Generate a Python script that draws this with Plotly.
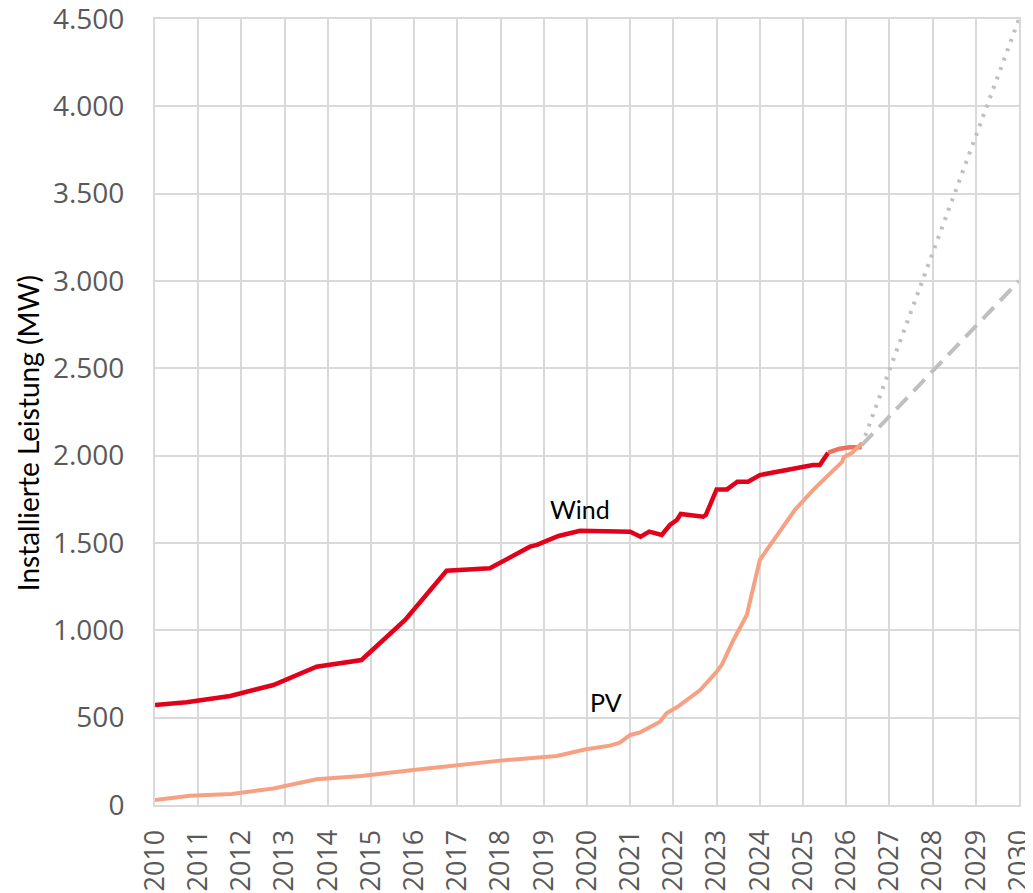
import plotly.graph_objects as go

# ---- data ----
wind_years = [2010.0, 2010.73, 2011.74, 2012.74, 2013.74, 2014.78, 2015.79, 2016.75,
              2017.75, 2018.68, 2018.84, 2019.34, 2019.84, 2020.76, 2021.0, 2021.24,
              2021.44, 2021.73, 2021.92, 2022.08, 2022.17, 2022.69, 2022.75, 2023.0,
              2023.24, 2023.48, 2023.73, 2024.0, 2025.23, 2025.39, 2025.58]
wind_values = [572, 588, 624, 687, 792, 830, 1059, 1341,
               1355, 1479, 1489, 1540, 1570, 1569, 1565, 1536,
               1565, 1546, 1603, 1632, 1666, 1651, 1660, 1807,
               1807, 1851, 1851, 1889, 1947, 1947, 2017]

wind_prelim_years = [2025.58, 2025.85, 2026.08, 2026.36]
wind_prelim_values = [2017, 2040, 2048, 2048]

pv_years = [2010.0, 2010.81, 2011.78, 2012.74, 2013.74, 2014.78, 2015.98, 2017.06,
            2017.99, 2019.30, 2019.95, 2020.53, 2020.76, 2021.0, 2021.23, 2021.69,
            2021.84, 2022.08, 2022.62, 2023.0, 2023.12, 2023.39, 2023.70, 2024.0,
            2024.81, 2025.23, 2025.62, 2025.91, 2025.94, 2026.12, 2026.36]
pv_values = [29, 53, 63, 95, 147, 166, 200, 229,
             254, 281, 318, 340, 357, 401, 416, 477,
             525, 559, 658, 763, 802, 945, 1088, 1403,
             1689, 1803, 1899, 1966, 1991, 2013, 2071]

proj_years = [2026.36, 2030.0]
proj_high = [2060, 4500]
proj_low = [2060, 3000]

year_ticks = list(range(2010, 2031))
y_ticks = list(range(0, 4501, 500))

GRID = "#D9D9D9"
TICK_COLOR = "#595959"

fig = go.Figure()

fig.add_trace(go.Scatter(x=proj_years, y=proj_high, mode="lines",
                         line=dict(color="#BFBFBF", width=4, dash="3px,7px"),
                         showlegend=False, hoverinfo="skip"))
fig.add_trace(go.Scatter(x=proj_years, y=proj_low, mode="lines",
                         line=dict(color="#BFBFBF", width=4, dash="16px,9px"),
                         showlegend=False, hoverinfo="skip"))
fig.add_trace(go.Scatter(x=wind_years, y=wind_values, mode="lines", name="Wind",
                         line=dict(color="#E2001A", width=4.5), showlegend=False))
fig.add_trace(go.Scatter(x=wind_prelim_years, y=wind_prelim_values, mode="lines",
                         line=dict(color="#F07060", width=4.5), showlegend=False))
fig.add_trace(go.Scatter(x=pv_years, y=pv_values, mode="lines", name="PV",
                         line=dict(color="#F7A082", width=4), showlegend=False))

fig.add_annotation(x=2019.83, y=1695, text="Wind", showarrow=False,
                   font=dict(family="Lato", size=25, color="#000000"))
fig.add_annotation(x=2020.44, y=591, text="PV", showarrow=False,
                   font=dict(family="Lato", size=25, color="#000000"))
fig.add_annotation(xref="paper", yref="paper", x=-0.147, y=0.473,
                   xanchor="center", yanchor="middle",
                   text="Installierte Leistung (MW)", textangle=-90, showarrow=False,
                   font=dict(family="Lato", size=28, color="#000000"))

# page body adds an 8px offset; compensate so the plot area lands where the reference has it
fig.update_layout(
    width=1025, height=885,
    margin=dict(l=147, r=14, t=11, b=88, autoexpand=False),
    paper_bgcolor="white", plot_bgcolor="white",
    separators=",.",
    showlegend=False,
    xaxis=dict(range=[2010, 2030], tickmode="array", tickvals=year_ticks,
               ticktext=[str(y) for y in year_ticks], tickangle=-90,
               showgrid=True, gridcolor=GRID, gridwidth=2,
               showline=True, linecolor=GRID, linewidth=2, mirror=True,
               zeroline=False, ticks="", ticklabelstandoff=12,
               ticklabeloverflow="allow", automargin=False,
               tickfont=dict(family="Open Sans", size=27, color=TICK_COLOR)),
    yaxis=dict(range=[0, 4500], tickmode="array", tickvals=y_ticks, tickformat=",",
               showgrid=True, gridcolor=GRID, gridwidth=2,
               showline=True, linecolor=GRID, linewidth=2, mirror=True,
               zeroline=False, ticks="", ticklabelstandoff=23,
               ticklabeloverflow="allow", automargin=False,
               tickfont=dict(family="Open Sans", size=28, color=TICK_COLOR)),
)

fig.write_html("out.html")
